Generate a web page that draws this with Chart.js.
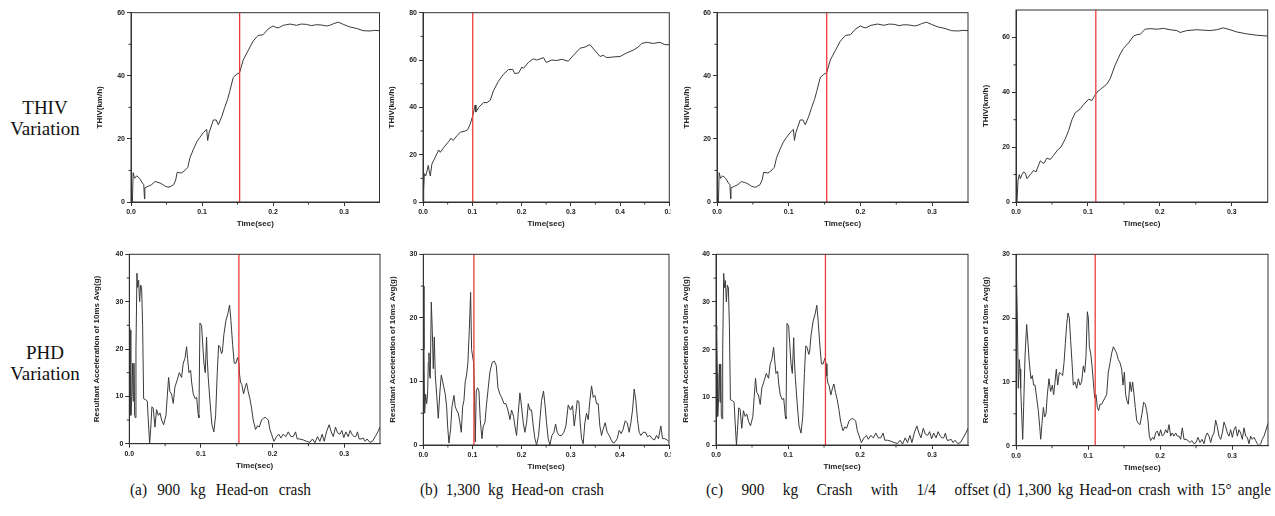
<!DOCTYPE html>
<html>
<head>
<meta charset="utf-8">
<script src="https://cdn.jsdelivr.net/npm/chart.js@4.4.1/dist/chart.umd.min.js"></script>
<style>
  body { margin: 0; background: #fff; width: 1275px; height: 516px; position: relative; overflow: hidden; font-family: "Liberation Serif", serif; }
  .box { position: absolute; overflow: hidden; }
  .box canvas { position: absolute; left: 0; top: 0; }
  .row { position: absolute; left: 2px; width: 86px; text-align: center; font-size: 19px; line-height: 21px; color: #111; }
  .cap { position: absolute; font-size: 17px; white-space: nowrap; color: #111; transform-origin: left top; }
</style>
</head>
<body>

<div class="row" style="top:97px">THIV<br>Variation</div>
<div class="row" style="top:342px">PHD<br>Variation</div>

<span class="cap" data-w="181" style="left:130px;top:480px">(a) 900 kg Head-on crash</span>
<span class="cap" data-w="184" style="left:420px;top:480px">(b) 1,300 kg Head-on crash</span>
<span class="cap" data-w="283" style="left:706px;top:480px">(c) 900 kg Crash with 1/4 offset</span>
<span class="cap" data-w="278" style="left:993px;top:480px">(d) 1,300 kg Head-on crash with 15° angle</span>

<script>
// THIV (km/h) curves
const thivA_t = [0, 0.002, 0.003, 0.005, 0.008, 0.012, 0.016, 0.018, 0.019, 0.0195, 0.0244, 0.029, 0.034, 0.038, 0.041, 0.045, 0.048, 0.052, 0.055, 0.06, 0.063, 0.065, 0.071, 0.075, 0.078, 0.08, 0.083, 0.0875, 0.0925, 0.097, 0.102, 0.1066, 0.108, 0.11, 0.116, 0.12, 0.123, 0.1277, 0.132, 0.136, 0.139, 0.144, 0.149, 0.153, 0.158, 0.165, 0.172, 0.179, 0.186, 0.193, 0.2, 0.2035, 0.2075, 0.2146, 0.219, 0.224, 0.233, 0.24, 0.247, 0.254, 0.261, 0.268, 0.2756, 0.28, 0.285, 0.292, 0.299, 0.308, 0.318, 0.327, 0.3366, 0.343, 0.35];
const thivA_v = [0.5, 0, 9.3, 7.5, 8.3, 7.5, 6, 5.5, 1, 4.5, 5, 5.5, 6.5, 6.2, 6, 5.5, 5, 4.7, 4.8, 5.5, 7, 9.4, 9.2, 9.8, 10.5, 11, 14, 16.5, 19, 20.5, 22, 23, 19.5, 22, 26, 26, 24.5, 27, 30, 32.5, 35, 39.5, 40.5, 41, 45, 48, 51, 52.8, 53, 54.8, 55.8, 55.4, 55.2, 56, 56.2, 56.4, 56, 56.4, 56.3, 55.9, 56.2, 56.1, 55.8, 56, 56.5, 57, 56.3, 55.5, 55, 54.3, 54.2, 54.4, 54.3];

const thivB_t = [0, 0.0014, 0.0027, 0.0054, 0.008, 0.0108, 0.0135, 0.0149, 0.018, 0.025, 0.0318, 0.035, 0.042, 0.052, 0.0568, 0.061, 0.069, 0.0757, 0.0858, 0.0905, 0.096, 0.101, 0.104, 0.106, 0.1074, 0.113, 0.123, 0.13, 0.1365, 0.143, 0.153, 0.1635, 0.1736, 0.1824, 0.186, 0.194, 0.2007, 0.204, 0.214, 0.224, 0.231, 0.2446, 0.25, 0.2615, 0.2716, 0.2818, 0.295, 0.3054, 0.319, 0.329, 0.339, 0.349, 0.3595, 0.366, 0.373, 0.3865, 0.4, 0.4135, 0.427, 0.437, 0.444, 0.454, 0.4676, 0.481, 0.491, 0.5];
const thivB_v = [0, 5, 12, 11, 13, 15.5, 12, 11, 16, 19, 22, 21, 23, 25.5, 27, 26, 28, 29.5, 30, 30.5, 33, 36.5, 39, 41, 38, 40, 42, 42, 43, 47, 51, 54, 56, 56, 54.3, 54.5, 57, 56.5, 59, 60.5, 60, 61, 59, 60, 59.8, 60.3, 59.5, 62, 65, 65.5, 66.5, 64, 61.5, 62, 61, 61.3, 61.5, 63, 64.2, 65.5, 67, 67.5, 67, 67.5, 66.5, 66.5];

const thivD_t = [0, 0.0014, 0.0028, 0.0046, 0.006, 0.0083, 0.0106, 0.013, 0.0153, 0.02, 0.0245, 0.0278, 0.0338, 0.0384, 0.043, 0.0477, 0.0523, 0.0579, 0.0625, 0.0685, 0.0731, 0.0778, 0.0824, 0.0894, 0.094, 0.101, 0.1056, 0.1088, 0.1125, 0.1194, 0.1264, 0.131, 0.138, 0.145, 0.1495, 0.1565, 0.1634, 0.168, 0.1727, 0.1796, 0.1866, 0.1958, 0.2051, 0.2144, 0.2236, 0.2282, 0.2375, 0.2514, 0.27, 0.279, 0.2884, 0.2977, 0.307, 0.3208, 0.3347, 0.35];
const thivD_v = [0, 0, 8, 10, 8.5, 10, 11, 10.5, 8.5, 10, 11.5, 11, 15, 14, 16, 15.5, 17, 19, 20, 23, 26, 30, 32.5, 34, 35.5, 37.5, 37, 38.5, 40, 41.5, 43, 45, 50, 54, 56, 58, 60.5, 61, 61.2, 63, 63.2, 63, 63.3, 62.8, 62.5, 61.8, 62.5, 62.8, 62.5, 62.8, 63.5, 62.8, 62, 61.3, 60.8, 60.5];

// PHD: resultant acceleration, 10 ms average (g)
const phdA_t = [0, 0.001, 0.0019, 0.0023, 0.0037, 0.0047, 0.0056, 0.0065, 0.0074, 0.0084, 0.0093, 0.0107, 0.0116, 0.013, 0.0144, 0.0158, 0.0172, 0.0186, 0.02, 0.0228, 0.0251, 0.0265, 0.0284, 0.0298, 0.0316, 0.0335, 0.0358, 0.0381, 0.0405, 0.0428, 0.0451, 0.0479, 0.0512, 0.053, 0.0549, 0.0567, 0.059, 0.0614, 0.0637, 0.067, 0.0698, 0.073, 0.0753, 0.0777, 0.08, 0.0814, 0.0833, 0.0856, 0.087, 0.0893, 0.092, 0.094, 0.0963, 0.0972, 0.0986, 0.1009, 0.1023, 0.1042, 0.106, 0.1079, 0.1088, 0.1102, 0.1126, 0.1153, 0.1181, 0.1205, 0.1228, 0.1247, 0.1265, 0.1288, 0.13, 0.132, 0.1349, 0.1377, 0.14, 0.1419, 0.1442, 0.1465, 0.1488, 0.1512, 0.153, 0.154, 0.1553, 0.157, 0.1595, 0.1619, 0.1637, 0.166, 0.1684, 0.1707, 0.173, 0.1763, 0.179, 0.1814, 0.1847, 0.188, 0.1907, 0.194, 0.1963, 0.1986, 0.2019, 0.2056, 0.2088, 0.2116, 0.2149, 0.2186, 0.2219, 0.2256, 0.2288, 0.2321, 0.2344, 0.2381, 0.2428, 0.2474, 0.2521, 0.2558, 0.2591, 0.2628, 0.266, 0.2693, 0.2721, 0.2753, 0.279, 0.2819, 0.2847, 0.2879, 0.2907, 0.294, 0.2967, 0.2995, 0.3023, 0.3056, 0.3084, 0.3116, 0.314, 0.3163, 0.3186, 0.3209, 0.3237, 0.3265, 0.3293, 0.332, 0.3358, 0.3395, 0.3433, 0.347, 0.35];
const phdA_v = [25, 24, 15, 6, 10, 17, 9, 17, 6, 5.5, 20, 36, 33, 34.5, 30, 33.5, 33, 25, 9.5, 9.3, 9, 5, 0, 3, 7.8, 7.5, 3.5, 7.2, 6, 6.5, 5, 4, 6, 10, 14, 11, 10.5, 8.5, 12, 13.5, 15, 14, 17, 18, 20.5, 18, 15, 15.5, 13, 10.5, 9.5, 9.8, 6, 5.5, 25.5, 25, 21.5, 17, 15, 22.5, 18, 14, 9, 4, 2.5, 6, 15, 20.8, 20.5, 19, 19.5, 23, 26, 27.5, 29.3, 26, 21, 17, 17, 18.2, 17, 14.5, 13, 12.5, 10.5, 12, 12.8, 11, 9.5, 7.5, 5, 3, 3.8, 3.5, 5, 5.5, 5.5, 5, 3, 2, 0.5, 1.5, 2, 1.2, 2, 1.5, 2.5, 1.5, 1.5, 2.5, 1, 1, 0.8, 0.5, 0.3, 1, 0.2, 1.5, 0.5, 2, 0.5, 2.5, 4, 2.5, 1.5, 3.5, 2.3, 2, 2.8, 1.3, 2.5, 1.5, 2.8, 1.8, 1.5, 1.5, 2.5, 1, 1, 1.2, 0.5, 1, 0.3, 0.5, 1.5, 2.5, 3.5];

const phdB_t = [0, 0.0014, 0.0027, 0.0047, 0.0068, 0.0088, 0.0102, 0.0115, 0.0129, 0.0142, 0.0163, 0.0183, 0.0203, 0.0224, 0.0244, 0.0271, 0.0305, 0.0339, 0.0366, 0.0393, 0.042, 0.0447, 0.0475, 0.0495, 0.0522, 0.0556, 0.0583, 0.0624, 0.0651, 0.0678, 0.0712, 0.0746, 0.0773, 0.08, 0.0827, 0.0854, 0.0881, 0.0908, 0.0936, 0.0963, 0.0983, 0.1003, 0.1024, 0.1037, 0.1058, 0.1078, 0.1105, 0.1132, 0.1159, 0.1193, 0.122, 0.1254, 0.1288, 0.1322, 0.1356, 0.1403, 0.1444, 0.1485, 0.1519, 0.1559, 0.1593, 0.1641, 0.1681, 0.1722, 0.1763, 0.1797, 0.1837, 0.1864, 0.1898, 0.1932, 0.1966, 0.2, 0.2034, 0.2068, 0.2102, 0.2136, 0.2169, 0.2203, 0.2237, 0.2271, 0.2305, 0.2346, 0.2373, 0.2407, 0.2447, 0.2481, 0.2508, 0.2542, 0.2576, 0.2617, 0.2658, 0.2692, 0.2725, 0.2766, 0.2814, 0.2861, 0.2902, 0.2949, 0.2997, 0.3037, 0.3071, 0.3105, 0.3132, 0.3166, 0.3193, 0.322, 0.3254, 0.3288, 0.3322, 0.3356, 0.339, 0.3424, 0.3458, 0.3492, 0.3525, 0.3559, 0.3593, 0.3627, 0.3661, 0.3702, 0.3742, 0.3783, 0.3824, 0.3864, 0.3905, 0.3946, 0.3986, 0.4027, 0.4068, 0.4108, 0.4149, 0.419, 0.4224, 0.4258, 0.4292, 0.4325, 0.4359, 0.4393, 0.4427, 0.4475, 0.4522, 0.4563, 0.461, 0.4658, 0.4705, 0.4746, 0.4786, 0.4834, 0.4868, 0.4915, 0.4963, 0.5];
const phdB_v = [25, 15, 5, 8, 6.5, 8, 13, 14.5, 11, 10.5, 22.5, 18, 12, 17, 11, 8, 4.2, 8.5, 11, 10, 9, 8, 6, 3, 0.3, 2.5, 6, 7.8, 6, 5.5, 5, 3.5, 2, 6, 7, 10, 11, 13, 18, 24, 15, 14, 13, 9.5, 0.5, 8.5, 9, 8.5, 4, 1, 3, 3.5, 6.5, 9, 11.5, 13, 13.2, 12.5, 9, 8, 7.5, 6.5, 6.5, 5.5, 4, 5.5, 4.5, 3, 1.5, 5, 8.2, 6, 3.5, 2, 3.5, 6.5, 5.5, 5.5, 3, 1, 0, 1.5, 4, 7, 8.5, 6, 3.5, 1, 0, 1.5, 2, 3.3, 2, 1.5, 1.5, 2, 3, 6.3, 5.5, 6.2, 3, 5, 7, 6.8, 3.5, 1, 0.2, 3.5, 5, 4, 7, 9.3, 7.5, 7.8, 6.5, 6.5, 3, 1.5, 2.5, 3.5, 2, 1.5, 0.8, 0.3, 0.5, 1, 2.3, 1.8, 2.5, 3.8, 3.5, 2, 3.5, 5.5, 8.8, 7, 4, 2, 1.5, 2, 2, 1.3, 1.5, 1, 0.8, 1.5, 1, 3, 1, 1, 0.8, 0.5];

const phdD_t = [0, 0.0009, 0.0019, 0.0032, 0.0046, 0.0056, 0.0065, 0.0079, 0.0093, 0.0106, 0.0125, 0.0148, 0.0167, 0.0185, 0.0208, 0.0227, 0.0245, 0.0264, 0.0287, 0.031, 0.0329, 0.0343, 0.0361, 0.038, 0.0398, 0.0417, 0.0435, 0.0458, 0.0481, 0.0505, 0.0523, 0.0542, 0.056, 0.0579, 0.0602, 0.0625, 0.0648, 0.0667, 0.0685, 0.0704, 0.0722, 0.0741, 0.0759, 0.0778, 0.0796, 0.0819, 0.0843, 0.0866, 0.0889, 0.0912, 0.0935, 0.0954, 0.0972, 0.0991, 0.1005, 0.1019, 0.1037, 0.1056, 0.1074, 0.1093, 0.1111, 0.113, 0.1148, 0.1167, 0.119, 0.1213, 0.1236, 0.1259, 0.1282, 0.1306, 0.1329, 0.1352, 0.1375, 0.1398, 0.1421, 0.1444, 0.1468, 0.1486, 0.1505, 0.1523, 0.1542, 0.156, 0.1583, 0.1602, 0.162, 0.1639, 0.1657, 0.1676, 0.1699, 0.1722, 0.175, 0.1773, 0.1796, 0.1815, 0.1833, 0.1852, 0.187, 0.1898, 0.1917, 0.194, 0.1963, 0.1986, 0.2009, 0.2032, 0.2056, 0.2079, 0.2102, 0.2125, 0.2148, 0.2171, 0.2194, 0.2218, 0.2241, 0.2264, 0.2287, 0.231, 0.2333, 0.2361, 0.2389, 0.2417, 0.2444, 0.2472, 0.25, 0.2528, 0.2556, 0.2583, 0.2611, 0.2634, 0.2657, 0.2681, 0.2704, 0.2727, 0.275, 0.2773, 0.2796, 0.2819, 0.2843, 0.2866, 0.2889, 0.2912, 0.2935, 0.2958, 0.2981, 0.3005, 0.3028, 0.3051, 0.3074, 0.3097, 0.312, 0.3144, 0.3167, 0.319, 0.3213, 0.3236, 0.3259, 0.3282, 0.3306, 0.3329, 0.3352, 0.3375, 0.3398, 0.3421, 0.3444, 0.3468, 0.35];
const phdD_v = [30, 30, 20, 9, 13.5, 12, 9, 5, 1, 6, 14, 19, 16, 13, 10.5, 11, 9.5, 9.5, 7.5, 5.5, 3, 1, 3.5, 6, 4.5, 5, 8, 10.5, 8.5, 9.5, 8, 10, 12, 9.5, 11.5, 11.3, 11, 13, 16, 19, 20.8, 20, 16.5, 13, 9.5, 10, 9, 10.5, 9.5, 10, 12.5, 11.5, 14, 21, 20, 15.5, 14.5, 12.5, 10, 7.5, 8, 6, 5.5, 6.5, 6.5, 7, 7.5, 8, 11.5, 13, 14.5, 15.5, 15, 14.5, 13.5, 13, 12, 9.5, 11.5, 8, 7, 6.5, 10, 8.5, 10, 8, 6, 4, 3.5, 3.3, 5, 6.8, 6.5, 5.5, 4, 1.5, 0.8, 1.3, 1, 2, 2.3, 1.5, 2.5, 1.5, 1.8, 2.5, 2, 3.3, 1.5, 2, 1.5, 2, 1.5, 1.5, 1, 2.8, 1, 1, 0.8, 0.5, 0.8, 0.3, 0.5, 1.3, 0.5, 1, 0.3, 1.5, 2, 1.5, 0.5, 1.5, 2, 4, 3, 1.5, 1, 2, 3.7, 3, 2, 1.5, 2.5, 1.3, 2.5, 3, 1.5, 2.5, 2, 1, 2.8, 1.5, 1.3, 0.3, 1.5, 1, 1.3, 0.8, 0.3, 0, 0.3, 1, 1.5, 2.3, 3.5];

// red marker: time of THIV / PHD (sec)
const markTop = [0.153, 0.101, 0.153, 0.111];
const markBottom = [0.153, 0.103, 0.152, 0.110];

const thivTitle = 'THIV(km/h)';
const phdTitle = 'Resultant Acceleration of 10ms Avg(g)';
const xTitle = 'Time(sec)';

const tickFont = { family: 'Liberation Sans', size: 7, weight: 'bold' };
const titleFont = { family: 'Liberation Sans', size: 8, weight: 'bold' };
const XH = 27;

const frame = {
  id: 'frame',
  afterDatasetsDraw(chart, args, o) {
    const { ctx, chartArea: a, scales: { x, y } } = chart;
    ctx.save();
    ctx.strokeStyle = '#333';
    ctx.lineWidth = 1;
    ctx.strokeRect(a.left, a.top, a.right - a.left, a.bottom - a.top);
    ctx.beginPath();
    for (let k = 0; (k + 0.5) * o.xStep < x.max; k++) {
      const px = x.getPixelForValue((k + 0.5) * o.xStep);
      ctx.moveTo(px, a.bottom); ctx.lineTo(px, a.bottom + 2.5);
    }
    for (let k = 0; (k + 0.5) * o.yStep < y.max; k++) {
      const py = y.getPixelForValue((k + 0.5) * o.yStep);
      ctx.moveTo(a.left, py); ctx.lineTo(a.left - 2.5, py);
    }
    ctx.stroke();
    ctx.restore();
  }
};

function plot(p) {
  const box = document.createElement('div');
  box.className = 'box';
  box.style.left = p.left + 'px';
  box.style.top = p.top + 'px';
  box.style.width = (p.clip - p.left) + 'px';
  box.style.height = p.h + 'px';
  const cv = document.createElement('canvas');
  const w = Math.ceil(p.plotRight - p.left + 12);
  cv.width = w; cv.height = p.h;
  cv.style.width = w + 'px'; cv.style.height = p.h + 'px';
  box.appendChild(cv);
  document.body.appendChild(box);

  const axisGrid = { display: true, drawOnChartArea: false, drawTicks: true, tickLength: 4, color: '#333', tickColor: '#333' };

  new Chart(cv, {
    type: 'line',
    data: {
      datasets: [
        { data: [{ x: p.mark, y: 0 }, { x: p.mark, y: p.yMax }], borderColor: '#f03a3a', borderWidth: 1.3, pointRadius: 0 },
        { data: p.t.map((t, i) => ({ x: t, y: p.v[i] })), borderColor: '#3a3a3a', borderWidth: 1, pointRadius: 0, tension: 0 }
      ]
    },
    options: {
      responsive: false,
      animation: false,
      events: [],
      layout: { padding: { left: 0, top: p.plotTop - p.top, right: w - (p.plotRight - p.left), bottom: p.h - (p.plotBottom - p.top) - XH } },
      plugins: { legend: { display: false }, tooltip: { enabled: false }, frame: { xStep: p.xStep, yStep: p.yStep } },
      scales: {
        x: {
          type: 'linear', min: 0, max: p.xMax,
          grid: axisGrid,
          border: { display: true, color: '#333', width: 1 },
          ticks: { stepSize: p.xStep, includeBounds: false, autoSkip: false, maxRotation: 0, padding: 2, font: tickFont, color: '#222', callback: v => Number(v).toFixed(1) },
          title: { display: true, text: xTitle, font: titleFont, color: '#222', padding: { top: 0, bottom: 0 } },
          afterFit: s => { s.height = XH; }
        },
        y: {
          type: 'linear', min: 0, max: p.yMax,
          grid: axisGrid,
          border: { display: true, color: '#333', width: 1 },
          ticks: { stepSize: p.yStep, includeBounds: false, autoSkip: false, padding: 2, font: tickFont, color: '#222' },
          title: { display: true, text: p.title, font: titleFont, color: '#222', padding: { top: 5.2, bottom: 0 } },
          afterFit: s => { s.width = p.plotLeft - p.left; }
        }
      }
    },
    plugins: [frame]
  });
}

const rowTop = { top: 0, h: 232, plotTop: 12.7, plotBottom: 202, title: thivTitle };
plot({ ...rowTop, left: 90, plotLeft: 131, plotRight: 379.5, clip: 381, xMax: 0.35, xStep: 0.1, yMax: 60, yStep: 20, t: thivA_t, v: thivA_v, mark: markTop[0] });
plot({ ...rowTop, left: 382, plotLeft: 423, plotRight: 669.3, clip: 671, xMax: 0.5, xStep: 0.1, yMax: 80, yStep: 20, t: thivB_t, v: thivB_v, mark: markTop[1] });
plot({ ...rowTop, left: 677, plotLeft: 717, plotRight: 968, clip: 972, xMax: 0.35, xStep: 0.1, yMax: 60, yStep: 20, t: thivA_t, v: thivA_v, mark: markTop[2] });
plot({ ...rowTop, left: 976, plotLeft: 1016, plotTop: 10, plotRight: 1267.7, clip: 1275, xMax: 0.35, xStep: 0.1, yMax: 70, yStep: 20, t: thivD_t, v: thivD_v, mark: markTop[3] });

const rowBot = { top: 240, h: 235, plotTop: 254.3, title: phdTitle };
plot({ ...rowBot, left: 87, plotLeft: 129.3, plotRight: 380, plotBottom: 443.7, clip: 381, xMax: 0.35, xStep: 0.1, yMax: 40, yStep: 10, t: phdA_t, v: phdA_v, mark: markBottom[0] });
plot({ ...rowBot, left: 383, plotLeft: 423.3, plotRight: 669, plotBottom: 445, clip: 671, xMax: 0.5, xStep: 0.1, yMax: 30, yStep: 10, t: phdB_t, v: phdB_v, mark: markBottom[1] });
plot({ ...rowBot, left: 676, plotLeft: 716, plotRight: 968, plotBottom: 445, clip: 972, xMax: 0.35, xStep: 0.1, yMax: 40, yStep: 10, t: phdA_t, v: phdA_v, mark: markBottom[2] });
plot({ ...rowBot, left: 976, plotLeft: 1016, plotRight: 1268, plotBottom: 445.7, clip: 1275, xMax: 0.35, xStep: 0.1, yMax: 30, yStep: 10, t: phdD_t, v: phdD_v, mark: markBottom[3] });

// captions: narrow glyphs, word gaps stretched to the width each takes in the figure
const squeeze = 0.9;
document.querySelectorAll('.cap').forEach(el => {
  const target = +el.dataset.w;
  const natural = el.getBoundingClientRect().width;
  const gaps = el.textContent.split(' ').length - 1;
  let k = squeeze;
  if (natural * k > target) k = target / natural;
  else el.style.wordSpacing = ((target / k - natural) / gaps) + 'px';
  el.style.transform = 'scaleX(' + k + ')';
});
</script>
</body>
</html>
